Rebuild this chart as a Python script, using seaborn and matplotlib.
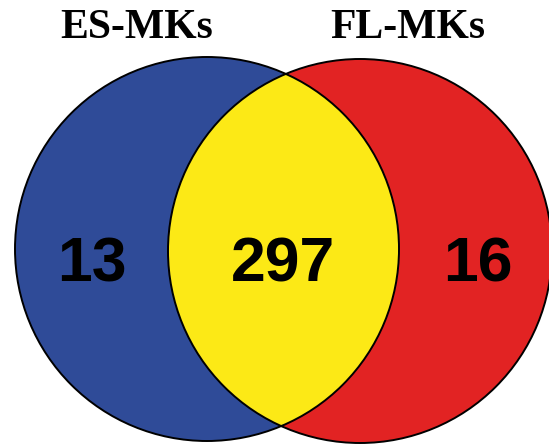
import matplotlib
matplotlib.use("Agg")
import matplotlib.pyplot as plt
import matplotlib.patches as mpatches
import seaborn as sns

# Venn data
set_names = ["ES-MKs", "FL-MKs"]
only_counts = [13, 16]
shared_count = 297
fill_colors = ["#2F4B98", "#E22323", "#FCE916"]  # left, right, overlap

# layout (pixel units)
radius = 192
centers = [(207, 249), (360, 251)]

sns.set_style("white")

fig = plt.figure(figsize=(5.49, 4.46), dpi=100)
ax = fig.add_axes([0, 0, 1, 1])
ax.set_xlim(0, 549)
ax.set_ylim(446, 0)
ax.set_aspect("equal")
ax.axis("off")

left = mpatches.Circle(centers[0], radius, facecolor=fill_colors[0], edgecolor="none", zorder=1)
right = mpatches.Circle(centers[1], radius, facecolor=fill_colors[1], edgecolor="none", zorder=1)
ax.add_patch(left)
ax.add_patch(right)

# overlap: right circle clipped by left circle
overlap = mpatches.Circle(centers[1], radius, facecolor=fill_colors[2], edgecolor="none", zorder=2)
ax.add_patch(overlap)
overlap.set_clip_path(left)

for c in centers:
    ax.add_patch(mpatches.Circle(c, radius, facecolor="none", edgecolor="black", lw=1.4, zorder=3))

# set names on top
title_x = [137, 408]
for name, x in zip(set_names, title_x):
    ax.text(x, 38, name, ha="center", va="baseline", fontsize=30, fontweight="bold",
            family="Liberation Serif", color="black", zorder=4)

# counts
count_x = [92, 283, 478]
counts = [only_counts[0], shared_count, only_counts[1]]
for x, n in zip(count_x, counts):
    ax.text(x, 282, str(n), ha="center", va="baseline", fontsize=45, fontweight="bold",
            family="Liberation Sans", color="black", zorder=4)

fig.savefig("out.png", dpi=100)
